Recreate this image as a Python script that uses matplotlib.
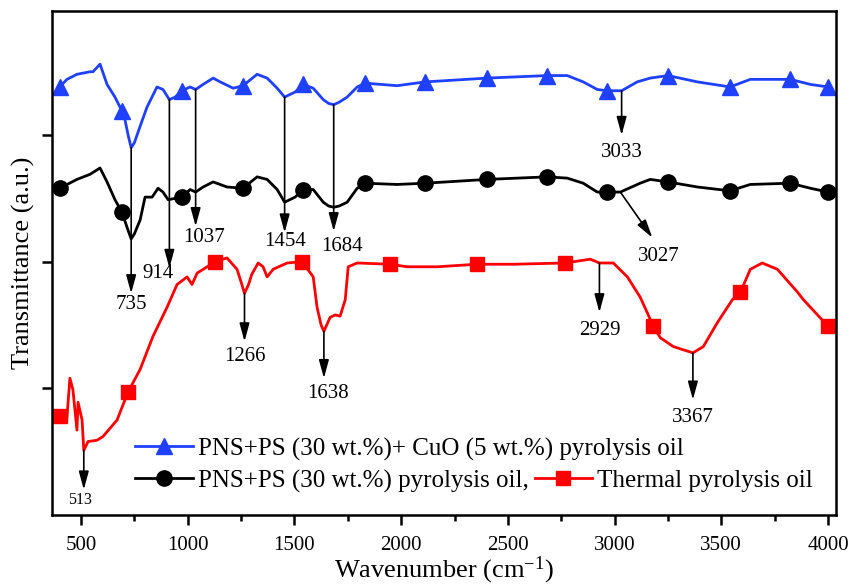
import numpy as np
import matplotlib
matplotlib.use('Agg')
import matplotlib.pyplot as plt

plt.rcParams['font.family'] = ['Liberation Serif', 'DejaVu Serif']
plt.rcParams['mathtext.fontset'] = 'custom'
plt.rcParams['mathtext.rm'] = 'Liberation Serif'
plt.rcParams['mathtext.it'] = 'Liberation Serif:italic'

# FTIR spectra (offset, arbitrary units)
wn_cuo = [400, 434, 481, 542, 556, 589, 622, 659, 692, 706, 722, 735, 750, 777, 809, 856, 884, 914,
          941, 973, 1011, 1037, 1072, 1119, 1152, 1213, 1259, 1325, 1372, 1419, 1454, 1503,
          1541, 1588, 1635, 1660, 1684, 1710, 1747, 1794, 1831, 1981, 2113, 2403, 2685, 2778, 2853, 2919,
          2966, 3033, 3106, 3167, 3250, 3388, 3541, 3636, 3823, 3918, 4000]
tr_cuo = [3.38, 3.44, 3.48, 3.50, 3.50, 3.56, 3.40, 3.30, 3.19, 3.12, 2.99, 2.90, 2.94, 3.07, 3.22, 3.38, 3.36, 3.28,
          3.30, 3.35, 3.38, 3.36, 3.40, 3.45, 3.42, 3.37, 3.39, 3.48, 3.45, 3.37, 3.30, 3.34,
          3.40, 3.37, 3.28, 3.25, 3.24, 3.26, 3.30, 3.38, 3.41, 3.39, 3.42, 3.45, 3.47, 3.47, 3.42, 3.36,
          3.35, 3.35, 3.42, 3.45, 3.47, 3.42, 3.38, 3.44, 3.44, 3.40, 3.38]

wn_pns = [400, 481, 542, 589, 622, 659, 692, 720, 735, 750, 777, 800, 833, 861, 884, 908, 973, 1011,
          1037, 1072, 1119, 1184, 1259, 1325, 1372, 1419, 1454, 1503, 1541, 1588, 1635, 1660, 1684, 1710,
          1747, 1794, 1831, 1981, 2113, 2403, 2685, 2778, 2853, 2919, 2966, 3027, 3120, 3167,
          3250, 3388, 3541, 3636, 3823, 3918, 4000]
tr_pns = [2.58, 2.65, 2.69, 2.74, 2.63, 2.49, 2.39, 2.25, 2.18, 2.22, 2.33, 2.51, 2.51, 2.58, 2.55, 2.49, 2.51, 2.57,
          2.55, 2.59, 2.63, 2.59, 2.58, 2.67, 2.65, 2.57, 2.47, 2.51, 2.57, 2.57, 2.47, 2.44, 2.43, 2.44,
          2.47, 2.58, 2.62, 2.61, 2.62, 2.65, 2.67, 2.66, 2.62, 2.55, 2.55, 2.55, 2.62, 2.65,
          2.63, 2.59, 2.56, 2.61, 2.62, 2.58, 2.55]

wn_th = [400, 434, 448, 462, 481, 486, 505, 513, 533, 575, 603, 669, 720, 777, 837, 903,
         950, 997, 1020, 1044, 1091, 1128, 1184, 1231, 1250, 1266, 1285, 1300, 1330, 1353, 1372, 1400,
         1466, 1536, 1588, 1606, 1625, 1638, 1667, 1691, 1714, 1738, 1752, 1794, 1948, 2028, 2169,
         2356, 2525, 2769, 2886, 2929, 2994, 3060, 3120, 3182, 3214, 3275, 3367, 3416, 3482,
         3552, 3590, 3636, 3692, 3763, 3857, 3885, 4000]
tr_th = [0.78, 0.77, 1.08, 0.99, 0.67, 0.89, 0.75, 0.51, 0.58, 0.59, 0.62, 0.75, 0.97, 1.15, 1.41, 1.64,
         1.82, 1.88, 1.82, 1.91, 1.96, 2.00, 2.03, 1.94, 1.84, 1.75, 1.82, 1.90, 1.99, 1.96, 1.88, 1.94,
         1.99, 2.00, 1.88, 1.64, 1.50, 1.45, 1.56, 1.58, 1.57, 1.70, 1.96, 1.99, 1.98, 1.96, 1.96,
         1.98, 1.98, 1.99, 2.02, 1.99, 1.99, 1.88, 1.72, 1.49, 1.40, 1.33, 1.28, 1.33, 1.52,
         1.70, 1.76, 1.94, 1.99, 1.94, 1.76, 1.70, 1.49]

# symbol positions along each spectrum
marks_oil = [400, 692, 973, 1259, 1541, 1831, 2113, 2403, 2685, 2966, 3250, 3541, 3823, 4000]
marks_th = [400, 720, 1128, 1536, 1948, 2356, 2769, 3182, 3590, 4000]

labels = ['PNS+PS (30 wt.%)+ CuO (5 wt.%) pyrolysis oil',
          'PNS+PS (30 wt.%) pyrolysis oil,',
          'Thermal pyrolysis oil']

# peak annotations: (label, x of peak, y start, y arrow tip, text x, text y, fontsize)
peaks = [
    ('735', 735, 2.90, 1.75, 735, 1.66, 15),
    ('914', 914, 3.28, 1.95, 861, 1.91, 15),
    ('1037', 1037, 3.36, 2.28, 1077, 2.19, 15),
    ('1454', 1454, 3.30, 2.23, 1454, 2.16, 15),
    ('1684', 1684, 3.24, 2.24, 1724, 2.12, 15),
    ('3033', 3033, 3.35, 3.00, 3033, 2.86, 15),
    ('513', 513, 0.51, 0.20, 495, 0.12, 11.5),
    ('1266', 1266, 1.75, 1.37, 1266, 1.25, 15),
    ('1638', 1638, 1.45, 1.08, 1655, 0.96, 15),
    ('2929', 2929, 1.99, 1.60, 2929, 1.46, 15),
    ('3367', 3367, 1.28, 0.91, 3367, 0.77, 15),
]

fig = plt.figure(figsize=(8.51, 5.87), dpi=100)
ax = fig.add_axes([0.0611, 0.1227, 0.9209, 0.8586])


def idx(xs, marks):
    return [xs.index(m) for m in marks]


line_kw = dict(lw=2, solid_joinstyle='round')
h1, = ax.plot(wn_cuo, tr_cuo, color='#2040ff', marker='^', ms=12,
              markevery=idx(wn_cuo, marks_oil), **line_kw)
h2, = ax.plot(wn_pns, tr_pns, color='black', marker='o', ms=11,
              markevery=idx(wn_pns, marks_oil), **line_kw)
h3, = ax.plot(wn_th, tr_th, color='#ff0000', marker='s', ms=10,
              markevery=idx(wn_th, marks_th), **line_kw)

arrow = dict(arrowstyle='-|>,head_length=0.55,head_width=0.15', mutation_scale=20,
             color='black', lw=1.2, shrinkA=0, shrinkB=0)
for lab, x, y0, y1, tx, ty, fs in peaks:
    ax.annotate('', xy=(x, y1), xytext=(x, y0), arrowprops=arrow)
    ax.text(tx, ty, lab, ha='center', va='center', fontsize=fs)

# the 3027 band gets a slanted arrow
ax.annotate('', xy=(3177, 2.19), xytext=(3027, 2.55), arrowprops=arrow)
ax.text(3205, 2.04, '3027', ha='center', va='center', fontsize=15)

ax.set_xlim(364, 4036)
ax.set_ylim(0, 3.98)
ax.set_xticks(np.arange(500, 4001, 500))
ax.set_xticks(np.arange(750, 4001, 500), minor=True)
ax.set_yticks([1, 2, 3])
ax.set_yticklabels([])
ax.tick_params(axis='both', which='major', direction='out', length=7, width=1.8,
               labelsize=15, pad=8)
ax.tick_params(axis='x', which='minor', direction='out', length=4, width=1.8)
for s in ax.spines.values():
    s.set_linewidth(1.8)

ax.set_xlabel('Wavenumber (cm$^{-1}$)', fontsize=19, labelpad=0)
ax.set_ylabel('Transmittance (a.u.)', fontsize=19)
ax.yaxis.set_label_coords(-0.022, 0.5)

leg_kw = dict(frameon=False, borderpad=0, borderaxespad=0, handlelength=2.3,
              handletextpad=0.2, fontsize=18, loc='center left',
              bbox_transform=fig.transFigure)
leg1 = ax.legend([h1], [labels[0]], bbox_to_anchor=(135 / 851, 1 - 449 / 587), **leg_kw)
ax.add_artist(leg1)
ax.legend([h2, h3], labels[1:], ncol=2, columnspacing=0.25,
          bbox_to_anchor=(135 / 851, 1 - 481 / 587), **leg_kw)

fig.savefig('out.png', dpi=100)
